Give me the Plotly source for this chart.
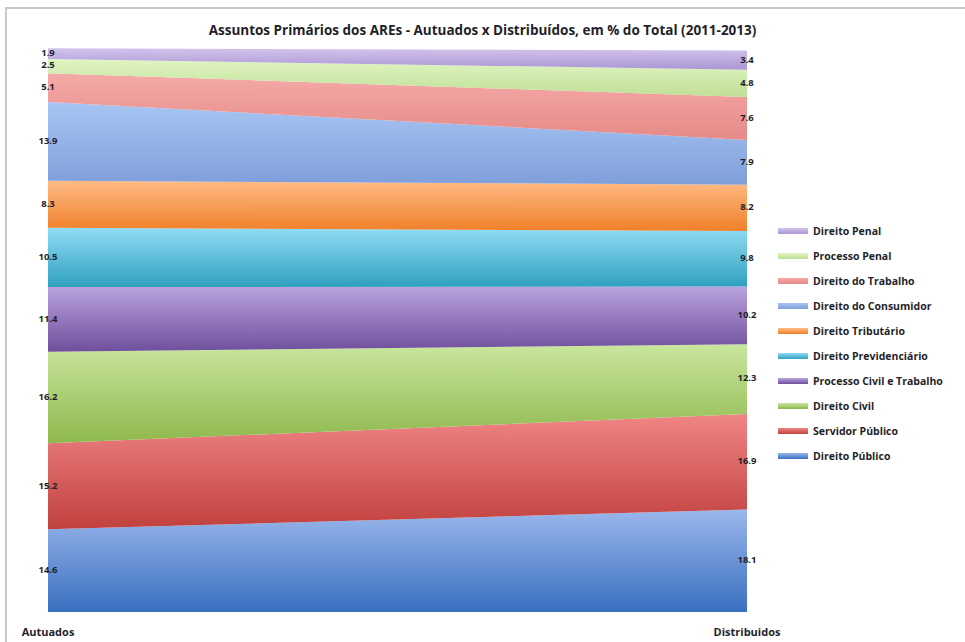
import numpy as np
import plotly.graph_objects as go

# Categories on the x axis
stages = ["Autuados", "Distribuidos"]

# Subjects, bottom to top of the stack
subjects = [
    "Direito Público",
    "Servidor Público",
    "Direito Civil",
    "Processo Civil e Trabalho",
    "Direito Previdenciário",
    "Direito Tributário",
    "Direito do Consumidor",
    "Direito do Trabalho",
    "Processo Penal",
    "Direito Penal",
]

# Share of total (%) per subject
autuados = [14.6, 15.2, 16.2, 11.4, 10.5, 8.3, 13.9, 5.1, 2.5, 1.9]
distribuidos = [18.1, 16.9, 12.3, 10.2, 9.8, 8.2, 7.9, 7.6, 4.8, 3.4]

# Gradient colours (bottom, top) for each band
band_colors = {
    "Direito Público": ("#3a70c0", "#9ab7ec"),
    "Servidor Público": ("#c0413e", "#f08585"),
    "Direito Civil": ("#8fb84d", "#c9e69e"),
    "Processo Civil e Trabalho": ("#6f4f9c", "#b9a2dd"),
    "Direito Previdenciário": ("#2fa0bf", "#91dcf5"),
    "Direito Tributário": ("#f0802a", "#ffbb85"),
    "Direito do Consumidor": ("#7f9fdb", "#a8c5f2"),
    "Direito do Trabalho": ("#e58a88", "#f5aaa8"),
    "Processo Penal": ("#bfdf96", "#e0f5c3"),
    "Direito Penal": ("#ab96d3", "#d2c3ec"),
}

vals = np.array([autuados, distribuidos], dtype=float)  # shape (2, n)
tops = np.cumsum(vals, axis=1)
bottoms = tops - vals

FONT = "Open Sans"
TEXT_COLOR = "#1f1f2a"

fig = go.Figure()

n = len(subjects)
for i, name in enumerate(subjects):
    dark, light = band_colors[name]
    fig.add_trace(go.Scatter(
        x=stages,
        y=vals[:, i],
        name=name,
        stackgroup="one",
        mode="none",
        legendgroup=name,
        legendrank=1000 + (n - i),  # top band listed first
        fillgradient=dict(
            type="vertical",
            colorscale=[[0, dark], [1, light]],
            start=float(bottoms[:, i].min()),
            stop=float(tops[:, i].max()),
        ),
        fillcolor=light,
        hoverinfo="skip",
    ))

# Value labels centred in each band on both edges
for j, stage in enumerate(stages):
    fig.add_trace(go.Scatter(
        x=[stage] * len(subjects),
        y=(bottoms[j] + tops[j]) / 2,
        mode="text",
        text=[f"{v:.1f}" for v in vals[j]],
        textposition="middle center",
        textfont=dict(family=FONT, size=9.5, color=TEXT_COLOR, weight="bold"),
        cliponaxis=False,
        showlegend=False,
        hoverinfo="skip",
    ))

L, R, T, B = 48, 218, 46, 30
W, H = 965, 642
pw, ph = W - L - R, H - T - B

fig.update_layout(
    width=W,
    height=H,
    margin=dict(l=L, r=R, t=T, b=B, autoexpand=False),
    paper_bgcolor="white",
    plot_bgcolor="white",
    title=dict(
        text="Assuntos Primários dos AREs - Autuados x Distribuídos, em % do Total (2011-2013)",
        x=0.5, xref="container", xanchor="center",
        y=1 - 30 / H, yref="container", yanchor="middle",
        font=dict(family=FONT, size=13.5, color=TEXT_COLOR, weight="bold"),
    ),
    xaxis=dict(
        type="category",
        range=[0, 1],
        automargin=False,
        showgrid=False,
        zeroline=False,
        showline=False,
        ticks="",
        ticklabelstandoff=12,
        tickfont=dict(family=FONT, size=11, color=TEXT_COLOR, weight="bold"),
        fixedrange=True,
    ),
    yaxis=dict(
        range=[0, 100],
        automargin=False,
        showgrid=False,
        zeroline=False,
        showline=False,
        showticklabels=False,
        ticks="",
        fixedrange=True,
    ),
    legend=dict(
        traceorder="grouped",
        x=(773 - L) / pw, xanchor="left",
        y=(H - B - 343.5) / ph, yanchor="middle",
        font=dict(family=FONT, size=10.5, color=TEXT_COLOR, weight="bold"),
        tracegroupgap=6,
        bgcolor="rgba(0,0,0,0)",
    ),
    showlegend=True,
)

# Light grey frame around the chart area
fig.add_shape(
    type="rect", xref="paper", yref="paper",
    x0=(6 - L) / pw, x1=(W + 10 - L) / pw,
    y0=(H - B - (H + 10)) / ph, y1=(H - B - 8) / ph,
    line=dict(color="#c9c9c9", width=2),
    fillcolor="rgba(0,0,0,0)",
    layer="below",
)

fig.write_html("out.html")
